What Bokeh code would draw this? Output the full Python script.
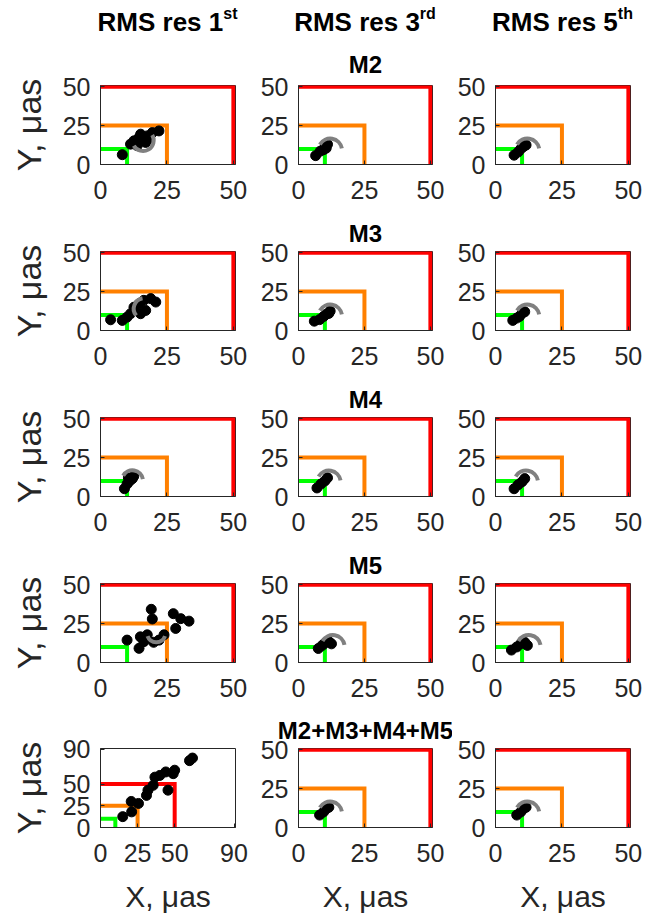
from bokeh.plotting import figure
from bokeh.layouts import gridplot, column
from bokeh.models import FixedTicker, Range1d, Title, Div
from bokeh.embed import file_html
from bokeh.resources import INLINE
import math

FONT = "Liberation Sans"
INK = "#262626"

# ---------------- data ----------------
row_names = ["M2", "M3", "M4", "M5", "M2+M3+M4+M5"]
col_names = ["RMS res 1", "RMS res 3", "RMS res 5"]
col_sups = ["st", "rd", "th"]
limits = [50, 25, 10]
limit_colors = ["#FF0000", "#FF8000", "#00FF00"]
ticks_std = [0, 25, 50]
ticks_all = [0, 25, 50, 90]
axis_max_std = 50.8
axis_max_all = 91

m2_1st_x = [8.2, 11.3, 12.6, 14.5, 13.8, 15.7, 17.6, 17.0, 19.5, 22.0, 15.1, 16.5, 18.5]
m2_1st_y = [6.3, 13.1, 15.2, 17.3, 12.1, 16.3, 18.4, 14.2, 20.5, 21.6, 19.5, 15.0, 17.0]
m2_3rd_x = [6.5, 8.2, 9.5, 10.1, 11.0, 10.5]
m2_3rd_y = [5.7, 8.5, 9.5, 12.1, 13.0, 10.5]
m2_5th_x = [7.0, 8.5, 9.5, 10.5, 11.5]
m2_5th_y = [6.0, 8.0, 10.0, 11.5, 12.5]

m3_1st_x = [3.8, 8.2, 11.3, 12.6, 14.5, 16.3, 18.9, 20.8, 17.0, 15.1, 10.0]
m3_1st_y = [6.9, 6.5, 10.8, 15.0, 17.2, 19.4, 20.5, 18.3, 12.9, 10.8, 8.6]
m3_3rd_x = [6.0, 8.0, 9.5, 10.5, 11.5, 12.0]
m3_3rd_y = [6.0, 7.0, 9.0, 10.5, 11.0, 12.5]
m3_5th_x = [6.5, 8.0, 9.0, 10.0, 11.0]
m3_5th_y = [6.5, 8.0, 9.0, 11.0, 12.0]

m4_1st_x = [9.0, 10.0, 11.0, 12.0, 12.5, 10.5]
m4_1st_y = [5.0, 8.0, 10.0, 11.5, 13.0, 12.0]
m4_3rd_x = [7.0, 8.5, 10.0, 11.0]
m4_3rd_y = [5.5, 8.0, 10.0, 12.0]
m4_5th_x = [7.0, 8.5, 10.0, 11.0]
m4_5th_y = [5.0, 7.5, 9.5, 11.5]

m5_1st_x = [19.1, 19.5, 27.4, 30.2, 33.3, 28.3, 10.0, 15.0, 17.6, 16.3, 14.5, 22.0, 23.9, 20.0]
m5_1st_y = [34.2, 28.0, 31.4, 28.2, 26.6, 21.9, 14.4, 16.5, 17.8, 13.4, 9.1, 14.4, 17.8, 13.0]
m5_3rd_x = [7.5, 9.0, 10.0, 11.5, 12.5]
m5_3rd_y = [9.0, 11.0, 12.5, 13.5, 12.0]
m5_5th_x = [6.0, 8.0, 9.5, 11.0, 12.0]
m5_5th_y = [8.0, 10.0, 12.0, 13.0, 11.0]

all_1st_x = [15, 21, 20.7, 25.6, 31, 32, 35.5, 36.7, 40, 44, 49, 50, 45.5, 60, 62]
all_1st_y = [12.5, 18, 30, 27.7, 37, 43, 48.6, 58, 60, 64, 62, 66, 43, 77, 80]
all_3rd_x = [8.0, 9.5, 10.5, 11.5]
all_3rd_y = [8.0, 10.0, 12.0, 13.0]
all_5th_x = [8.0, 9.5, 10.5, 11.5]
all_5th_y = [8.0, 10.0, 12.0, 13.0]

# gray arcs, one per panel (row-major), None where absent
arc_cx = [16.0, 12.0, 12.0, 16.5, 12.0, 12.0, 12.0, 11.5, 11.5, 21.0, 13.0, 12.5, None, 12.0, 12.0]
arc_cy = [15.5, 9.0, 9.0, 14.0, 9.0, 9.0, 10.0, 9.0, 9.0, 19.0, 10.0, 10.0, None, 9.0, 9.0]
arc_r = [4.0, 4.5, 4.5, 4.0, 4.5, 4.5, 4.0, 4.5, 4.5, 3.5, 4.5, 4.5, None, 4.5, 4.5]
arc_a0 = [-150, 10, 10, 100, 10, 10, 10, 10, 10, 200, 10, 10, None, 10, 10]
arc_a1 = [30, 150, 150, 220, 150, 150, 150, 150, 150, 340, 150, 150, None, 150, 150]

panels_x = [m2_1st_x, m2_3rd_x, m2_5th_x, m3_1st_x, m3_3rd_x, m3_5th_x,
            m4_1st_x, m4_3rd_x, m4_5th_x, m5_1st_x, m5_3rd_x, m5_5th_x,
            all_1st_x, all_3rd_x, all_5th_x]
panels_y = [m2_1st_y, m2_3rd_y, m2_5th_y, m3_1st_y, m3_3rd_y, m3_5th_y,
            m4_1st_y, m4_3rd_y, m4_5th_y, m5_1st_y, m5_3rd_y, m5_5th_y,
            all_1st_y, all_3rd_y, all_5th_y]

# ---------------- layout (page pixels) ----------------
HEAD_H = 40
FIG_W = [255, 197, 206]
BORDER_L = [100, 43, 43]
BORDER_R = [20, 20, 28]
FH = 79
BORDER_T = [45, 42, 42, 42, 41]
BORDER_B = [45, 45, 45, 45, 94]
TITLE_STANDOFF = [16, 10, 10, 10, 10]
COL_CENTER = [167.5, 365, 562.5]

# header block: column titles with superscripts
parts = [f'<div style="position:relative;width:658px;height:{HEAD_H}px;'
         f'font-family:\'{FONT}\',sans-serif;font-weight:bold;color:#000;">']
for c in range(3):
    parts.append(
        f'<div style="position:absolute;left:{COL_CENTER[c] - 110}px;top:9px;width:220px;'
        f'text-align:center;font-size:26px;line-height:26px;white-space:nowrap;">'
        f'{col_names[c]}<span style="position:relative;top:-12px;font-size:16px;">{col_sups[c]}</span></div>')
parts.append('</div>')
header = Div(text="".join(parts), width=658, height=HEAD_H, margin=0)

grid = []
for r in range(5):
    row = []
    for c in range(3):
        k = r * 3 + c
        big = (r == 4 and c == 0)
        amax = axis_max_all if big else axis_max_std
        ticks = ticks_all if big else ticks_std
        p = figure(width=FIG_W[c], height=BORDER_T[r] + FH + BORDER_B[r],
                   x_range=Range1d(0, amax), y_range=Range1d(0, amax),
                   output_backend="svg", toolbar_location=None,
                   min_border_left=BORDER_L[c], min_border_right=BORDER_R[c],
                   min_border_top=BORDER_T[r], min_border_bottom=BORDER_B[r])
        p.grid.visible = False
        p.outline_line_color = INK
        p.outline_line_width = 1
        p.background_fill_color = "white"
        p.border_fill_color = "white"
        for ax in (p.xaxis[0], p.yaxis[0]):
            ax.ticker = FixedTicker(ticks=ticks)
            ax.major_tick_in = 4
            ax.major_tick_out = 0
            ax.minor_tick_line_color = None
            ax.axis_line_color = INK
            ax.major_tick_line_color = INK
            ax.major_label_text_font = FONT
            ax.major_label_text_font_size = "25px"
            ax.major_label_text_color = INK
            ax.axis_label_text_font = FONT
            ax.axis_label_text_font_style = "normal"
            ax.axis_label_text_color = INK
        p.xaxis[0].major_label_standoff = 16
        p.yaxis[0].major_label_standoff = 10
        p.yaxis[0].major_label_orientation = "horizontal"
        if c == 0:
            p.yaxis[0].axis_label = "Y, μas"
            p.yaxis[0].axis_label_text_font_size = "34px"
            p.yaxis[0].axis_label_standoff = 12
        if r == 4:
            p.xaxis[0].axis_label = "X, μas"
            p.xaxis[0].axis_label_text_font_size = "30px"
            p.xaxis[0].axis_label_standoff = 15

        # row titles above the middle column
        if c == 1:
            p.add_layout(Title(text=row_names[r], align="center", text_font=FONT,
                               text_font_size="24px", text_font_style="bold",
                               text_color="black", standoff=TITLE_STANDOFF[r]), "above")

        # threshold boxes
        for t, col in zip(limits, limit_colors):
            p.line([0, t, t], [t, t, 0], line_color=col, line_width=4, line_join="miter")
        # points
        p.scatter(panels_x[k], panels_y[k], size=10, color="black")
        # gray arc
        if arc_cx[k] is not None:
            p.arc(x=[arc_cx[k]], y=[arc_cy[k]], radius=arc_r[k],
                  start_angle=math.radians(arc_a0[k]), end_angle=math.radians(arc_a1[k]),
                  line_color="#808080", line_width=4)
        row.append(p)
    grid.append(row)

layout = column(header, gridplot(grid, toolbar_location=None))
open("out.html", "w").write(file_html(layout, INLINE))
